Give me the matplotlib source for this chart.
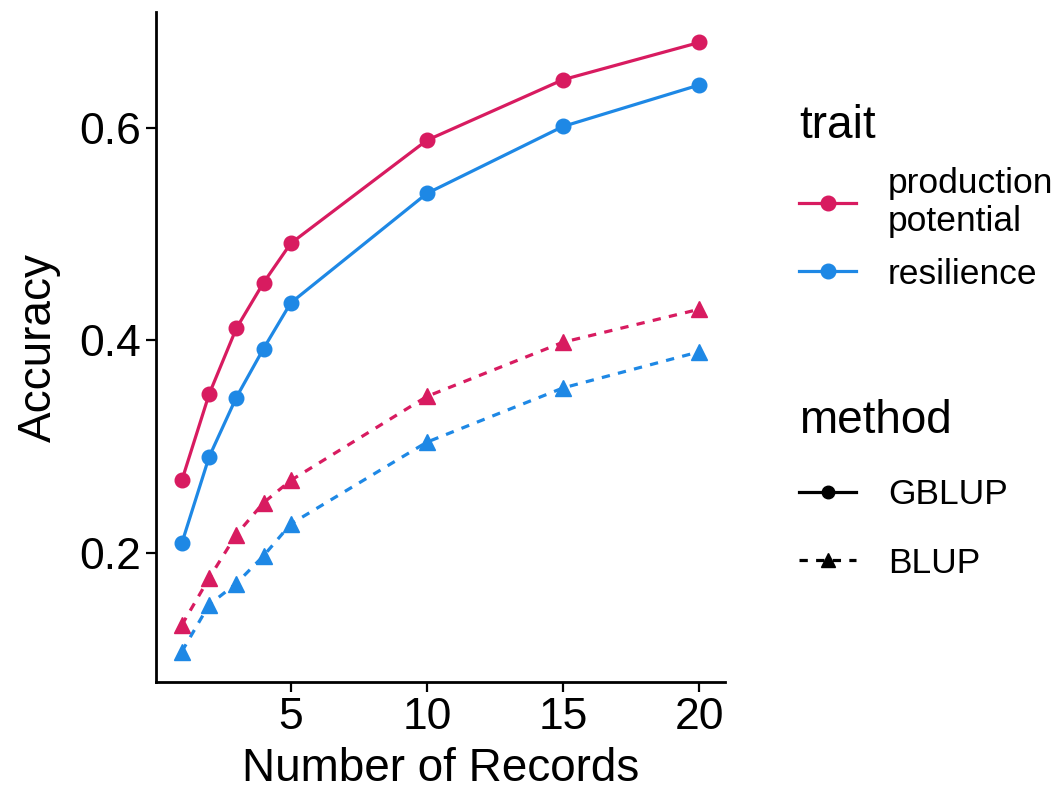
import matplotlib.pyplot as plt
from matplotlib.lines import Line2D

plt.rcParams['font.family'] = ['Liberation Sans', 'DejaVu Sans']

records = [1, 2, 3, 4, 5, 10, 15, 20]

# accuracy by trait and method
gblup_production = [0.268, 0.349, 0.411, 0.454, 0.491, 0.588, 0.645, 0.680]
gblup_resilience = [0.209, 0.290, 0.346, 0.392, 0.435, 0.538, 0.601, 0.640]
blup_production = [0.132, 0.176, 0.217, 0.247, 0.268, 0.347, 0.398, 0.429]
blup_resilience = [0.107, 0.151, 0.171, 0.197, 0.227, 0.304, 0.355, 0.389]

trait_labels = ['production\npotential', 'resilience']
method_labels = ['GBLUP', 'BLUP']
colors = ['#D81B60', '#1E88E5']
dashed = (0, (2.6, 2.6))

fig = plt.figure(figsize=(10.64, 7.92), dpi=100)
ax = fig.add_axes([0.1466, 0.1389, 0.5348, 0.8459])

lw = 2.3
ax.plot(records, gblup_production, color=colors[0], lw=lw, marker='o', ms=10.5)
ax.plot(records, gblup_resilience, color=colors[1], lw=lw, marker='o', ms=10.5)
ax.plot(records, blup_production, color=colors[0], lw=lw, ls=dashed, marker='^', ms=12)
ax.plot(records, blup_resilience, color=colors[1], lw=lw, ls=dashed, marker='^', ms=12)

allv = gblup_production + gblup_resilience + blup_production + blup_resilience
lo, hi = min(allv), max(allv)
pad = (hi - lo) * 0.05
ax.set_ylim(lo - pad, hi + pad)
xpad = (max(records) - min(records)) * 0.05
ax.set_xlim(min(records) - xpad, max(records) + xpad)

ax.set_xticks([5, 10, 15, 20])
ax.set_yticks([0.2, 0.4, 0.6])
ax.set_yticklabels(['0.2', '0.4', '0.6'])
for s in ['top', 'right']:
    ax.spines[s].set_visible(False)
for s in ['left', 'bottom']:
    ax.spines[s].set_linewidth(2.0)
ax.tick_params(width=1.6, length=7, labelsize=32, colors='black', pad=4)
ax.set_xlabel('Number of Records', fontsize=33, labelpad=6)
ax.set_ylabel('Accuracy', fontsize=33, labelpad=13)

# legends
trait_handles = [Line2D([], [], color=c, lw=lw, marker='o', ms=10.5) for c in colors]
leg1 = fig.legend(trait_handles, trait_labels, title='trait', loc='upper left',
                  bbox_to_anchor=(0.7246, 0.905), frameon=False, fontsize=25.5,
                  title_fontsize=33, handlelength=1.6, handletextpad=0.9,
                  labelspacing=0.55, alignment='left', borderpad=0.3)
method_handles = [Line2D([], [], color='black', lw=lw, marker='o', ms=9),
                  Line2D([], [], color='black', lw=lw, ls=dashed, marker='^', ms=10)]
leg2 = fig.legend(method_handles, method_labels, title='method', loc='upper left',
                  bbox_to_anchor=(0.7246, 0.532), frameon=False, fontsize=25.5,
                  title_fontsize=33, handlelength=1.6, handletextpad=0.9,
                  labelspacing=1.0, alignment='left', borderpad=0.3)

fig.savefig('out.png', dpi=100)
